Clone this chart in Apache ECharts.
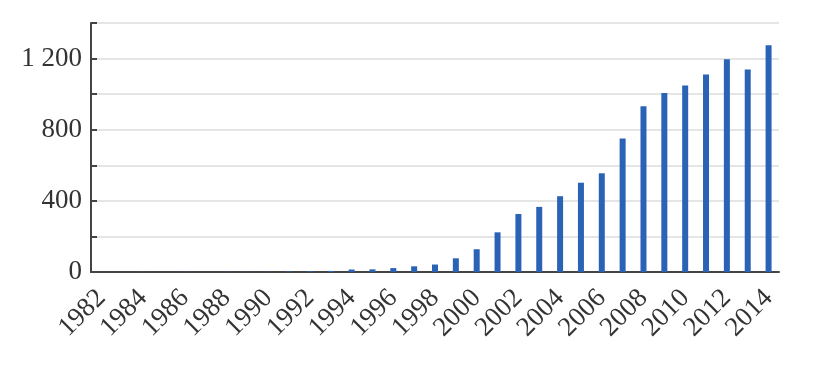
<!DOCTYPE html>
<html>
<head>
<meta charset="utf-8">
<script src="https://cdn.jsdelivr.net/npm/echarts@6/dist/echarts.min.js"></script>
<style>
  html, body { margin: 0; padding: 0; background: #fff; }
  #chart { width: 830px; height: 376px; }
</style>
</head>
<body>
<div id="chart"></div>
<script>
const years = [];
for (let y = 1982; y <= 2014; y++) years.push(String(y));

const counts = [
  0, 0, 1, 0, 1, 0, 1, 1, 1, 3, 4, 6,
  14, 15, 22, 32, 42, 77, 128, 223, 326, 366, 426, 502,
  555, 751, 932, 1007, 1049, 1111, 1196, 1138, 1275
];

const yLabels = ["0", "400", "800", "1 200"];

const chart = echarts.init(document.getElementById("chart"));

chart.setOption({
  animation: false,
  grid: { left: 91, right: 51, top: 23, bottom: 104 },
  xAxis: {
    type: "category",
    data: years,
    boundaryGap: true,
    axisLine: { lineStyle: { color: "#444", width: 2 } },
    axisTick: { show: false },
    axisLabel: {
      interval: 1,
      rotate: 45,
      margin: 22,
      color: "#333",
      fontFamily: "Liberation Serif, DejaVu Serif, serif",
      fontSize: 27
    }
  },
  yAxis: {
    type: "value",
    min: 0,
    max: 1400,
    interval: 200,
    axisLine: { show: true, lineStyle: { color: "#444", width: 2 } },
    axisTick: { show: true, inside: true, length: 6, lineStyle: { color: "#444", width: 2 } },
    splitLine: { lineStyle: { color: "#ddd", width: 1.5 } },
    axisLabel: {
      margin: 9,
      color: "#333",
      fontFamily: "Liberation Serif, DejaVu Serif, serif",
      fontSize: 27,
      formatter: v => (v % 400 === 0 && v <= 1200 ? yLabels[v / 400] : "")
    }
  },
  series: [
    {
      type: "bar",
      data: counts,
      barWidth: 6,
      itemStyle: { color: "#2a62b6" }
    }
  ]
});
</script>
</body>
</html>
